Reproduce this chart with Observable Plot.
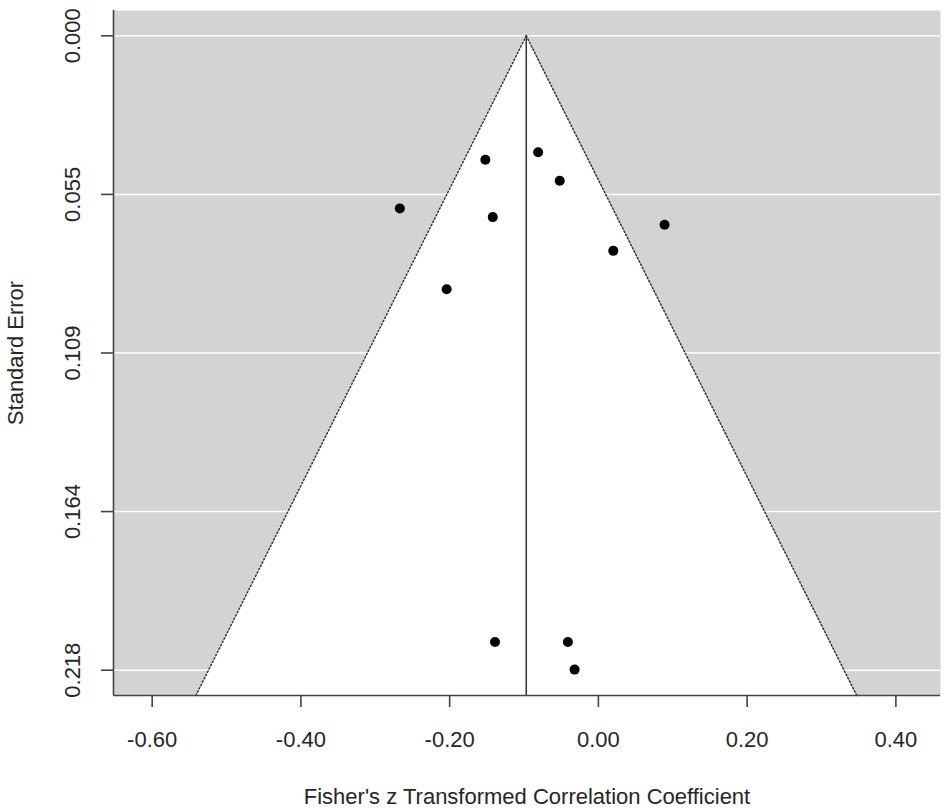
<!DOCTYPE html>
<html>
<head>
<meta charset="utf-8">
<script src="https://cdn.jsdelivr.net/npm/d3@7"></script>
<script src="https://cdn.jsdelivr.net/npm/@observablehq/plot@0.6"></script>
<style>
  html, body { margin: 0; padding: 0; background: #fff; }
  svg { display: block; }
</style>
</head>
<body>
<div id="chart"></div>
<script>
// Study effect sizes (Fisher's z) and standard errors
const effects = [-0.152, -0.081, -0.052, -0.267, -0.142, 0.089, 0.020, -0.204, -0.139, -0.041, -0.032];
const stdErrors = [0.0426, 0.0400, 0.0498, 0.0593, 0.0623, 0.0649, 0.0739, 0.0871, 0.2083, 0.2083, 0.2178];
const pooledEstimate = -0.097;
const xTicks = [-0.6, -0.4, -0.2, 0.0, 0.2, 0.4];
const xTickLabels = ["-0.60", "-0.40", "-0.20", "0.00", "0.20", "0.40"];
const yTicks = [0, 0.0545, 0.109, 0.1635, 0.218];
const yTickLabels = ["0.000", "0.055", "0.109", "0.164", "0.218"];
const xLabel = "Fisher's z Transformed Correlation Coefficient";
const yLabel = "Standard Error";

const xDomain = [-0.652, 0.46];
const yDomain = [-0.0087, 0.2267];
const seMax = yDomain[1];

const points = effects.map((e, i) => ({x: e, se: stdErrors[i]}));
const funnel = [
  {se: 0, lo: pooledEstimate, hi: pooledEstimate},
  {se: seMax, lo: pooledEstimate - 1.96 * seMax, hi: pooledEstimate + 1.96 * seMax}
];
const leftEdge = funnel.map(d => ({x: d.lo, se: d.se}));
const rightEdge = funnel.map(d => ({x: d.hi, se: d.se}));
const yTickData = yTicks.map((v, i) => ({v, label: yTickLabels[i]}));

const font = "'Liberation Sans', Arial, sans-serif";
const textColor = "#262626";

const chart = Plot.plot({
  width: 945,
  height: 809,
  marginLeft: 113,
  marginRight: 5,
  marginTop: 10,
  marginBottom: 114,
  style: {fontFamily: font, fontSize: "22px", color: textColor, background: "#fff"},
  x: {domain: xDomain, axis: null},
  y: {domain: yDomain, reverse: true, axis: null},
  marks: [
    Plot.frame({fill: "#d3d3d3", stroke: null}),
    Plot.ruleY(yTicks, {stroke: "#ffffff", strokeWidth: 1.5}),
    Plot.areaX(funnel, {y: "se", x1: "lo", x2: "hi", fill: "#ffffff"}),
    Plot.line(leftEdge, {x: "x", y: "se", stroke: "#333", strokeWidth: 1.5, strokeDasharray: "1.5,2.2"}),
    Plot.line(rightEdge, {x: "x", y: "se", stroke: "#333", strokeWidth: 1.5, strokeDasharray: "1.5,2.2"}),
    Plot.ruleX([pooledEstimate], {y1: 0, y2: seMax, stroke: "#333", strokeWidth: 1.5}),
    Plot.dot(points, {x: "x", y: "se", r: 5, fill: "#000", stroke: null}),
    // axis lines
    Plot.ruleX([xDomain[0]], {stroke: "#444", strokeWidth: 1.6}),
    Plot.ruleY([seMax], {stroke: "#444", strokeWidth: 1.6}),
    // x axis
    Plot.axisX(xTicks, {
      anchor: "bottom",
      tickSize: 12,
      tickPadding: 24,
      stroke: "#444",
      strokeWidth: 1.6,
      tickFormat: (d, i) => xTickLabels[i],
      fontSize: 22,
      fill: textColor,
      label: null
    }),
    // y axis ticks
    Plot.axisY(yTicks, {
      anchor: "left",
      tickSize: 12,
      stroke: "#444",
      strokeWidth: 1.6,
      tickFormat: () => "",
      label: null
    }),
    // y tick labels rotated
    Plot.text(yTickData, {
      x: xDomain[0], y: "v", text: "label", rotate: -90, dx: -41,
      fontSize: 22, fill: textColor, textAnchor: "middle"
    }),
    // axis titles
    Plot.text([xLabel], {frameAnchor: "bottom", dy: 108, fontSize: 22, fill: textColor, textAnchor: "middle"}),
    Plot.text([yLabel], {frameAnchor: "left", dx: -98, rotate: -90, fontSize: 22, fill: textColor, textAnchor: "middle"})
  ]
});

document.getElementById("chart").append(chart);
</script>
</body>
</html>
